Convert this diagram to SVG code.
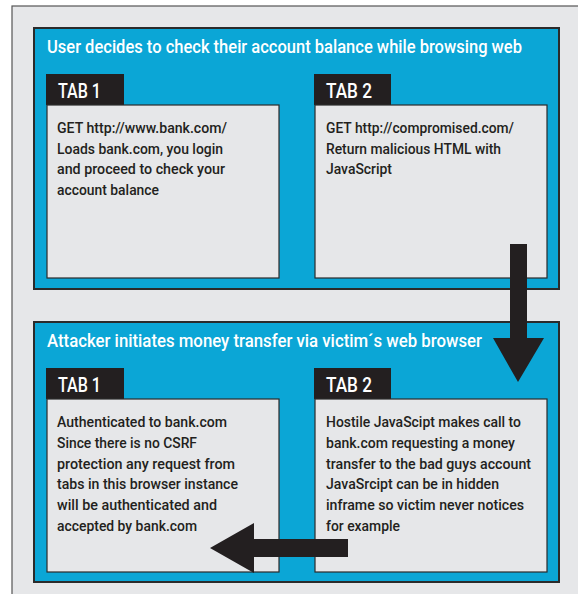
<svg xmlns="http://www.w3.org/2000/svg" width="578" height="594" viewBox="0 0 578 594">
<style>
.frame{fill:#e6e7e9;stroke:#555;stroke-width:1.2}
.panel{fill:#0ba6d6;stroke:#2b2b2b;stroke-width:2}
.tab{fill:#231f20}
.box{fill:#e6e7e9;stroke:#2b2b2b;stroke-width:1.2}
.title{font-family:"Roboto","Liberation Sans",Arial,sans-serif;font-weight:500;font-size:18.5px;fill:#fff}
.tabt{font-family:"Roboto","Liberation Sans",Arial,sans-serif;font-weight:500;font-size:21px;fill:#fff}
.body{font-family:"Roboto","Liberation Sans",Arial,sans-serif;font-weight:500;font-size:15.5px;fill:#231f20}
.arrow{fill:#231f20}
</style>
<rect x="0" y="0" width="578" height="594" fill="#fff"/>
<rect class="frame" x="12" y="6" width="580" height="600"/>
<g id="panel1">
<rect class="panel" x="34" y="28" width="525" height="261"/>
<text class="title" x="47" y="53" textLength="475" lengthAdjust="spacingAndGlyphs">User decides to check their account balance while browsing web</text>
</g>
<g id="p1tab1">
<rect class="tab" x="46" y="74" width="78" height="31"/>
<text class="tabt" x="58" y="98" textLength="43" lengthAdjust="spacingAndGlyphs">TAB 1</text>
<rect class="box" x="47" y="105" width="232" height="173"/>
<text class="body" x="57" y="133" textLength="170" lengthAdjust="spacingAndGlyphs">GET http://www.bank.com/</text>
<text class="body" x="57" y="153.5" textLength="166" lengthAdjust="spacingAndGlyphs">Loads bank.com, you login</text>
<text class="body" x="57" y="174" textLength="168" lengthAdjust="spacingAndGlyphs">and proceed to check your</text>
<text class="body" x="57" y="195" textLength="102" lengthAdjust="spacingAndGlyphs">account balance</text>
</g>
<g id="p1tab2">
<rect class="tab" x="314" y="74" width="77" height="31"/>
<text class="tabt" x="326" y="98" textLength="46" lengthAdjust="spacingAndGlyphs">TAB 2</text>
<rect class="box" x="315" y="105" width="232" height="173"/>
<text class="body" x="326" y="133" textLength="188" lengthAdjust="spacingAndGlyphs">GET http://compromised.com/</text>
<text class="body" x="326" y="153.5" textLength="175" lengthAdjust="spacingAndGlyphs">Return malicious HTML with</text>
<text class="body" x="326" y="174" textLength="66" lengthAdjust="spacingAndGlyphs">JavaScript</text>
</g>
<g id="panel2">
<rect class="panel" x="34" y="322" width="525" height="260"/>
<text class="title" x="47" y="347" textLength="435" lengthAdjust="spacingAndGlyphs">Attacker initiates money transfer via victim´s web browser</text>
</g>
<g id="p2tab1">
<rect class="tab" x="46" y="368" width="78" height="31"/>
<text class="tabt" x="58" y="392" textLength="43" lengthAdjust="spacingAndGlyphs">TAB 1</text>
<rect class="box" x="47" y="399" width="232" height="173"/>
<text class="body" x="57" y="427" textLength="170" lengthAdjust="spacingAndGlyphs">Authenticated to bank.com</text>
<text class="body" x="57" y="448" textLength="140" lengthAdjust="spacingAndGlyphs">Since there is no CSRF</text>
<text class="body" x="57" y="468.5" textLength="178" lengthAdjust="spacingAndGlyphs">protection any request from</text>
<text class="body" x="57" y="489" textLength="181" lengthAdjust="spacingAndGlyphs">tabs in this browser instance</text>
<text class="body" x="57" y="510" textLength="160" lengthAdjust="spacingAndGlyphs">will be authenticated and</text>
<text class="body" x="57" y="531" textLength="140" lengthAdjust="spacingAndGlyphs">accepted by bank.com</text>
</g>
<g id="p2tab2">
<rect class="tab" x="314" y="368" width="77" height="31"/>
<text class="tabt" x="326" y="392" textLength="46" lengthAdjust="spacingAndGlyphs">TAB 2</text>
<rect class="box" x="315" y="399" width="232" height="173"/>
<text class="body" x="326" y="427" textLength="195" lengthAdjust="spacingAndGlyphs">Hostile JavaScipt makes call to</text>
<text class="body" x="326" y="448" textLength="189" lengthAdjust="spacingAndGlyphs">bank.com requesting a money</text>
<text class="body" x="326" y="468.5" textLength="205" lengthAdjust="spacingAndGlyphs">transfer to the bad guys account</text>
<text class="body" x="326" y="489" textLength="173" lengthAdjust="spacingAndGlyphs">JavaSrcipt can be in hidden</text>
<text class="body" x="326" y="510" textLength="198" lengthAdjust="spacingAndGlyphs">inframe so victim never notices</text>
<text class="body" x="326" y="531" textLength="74" lengthAdjust="spacingAndGlyphs">for example</text>
</g>
<g id="connectors">
<polygon class="arrow" points="510,244 527,244 527,338 544,338 518,382 493,338 510,338"/>
<polygon class="arrow" points="348,539 348,557 254,557 254,573 210,548 254,523 254,539"/>
</g>
</svg>
